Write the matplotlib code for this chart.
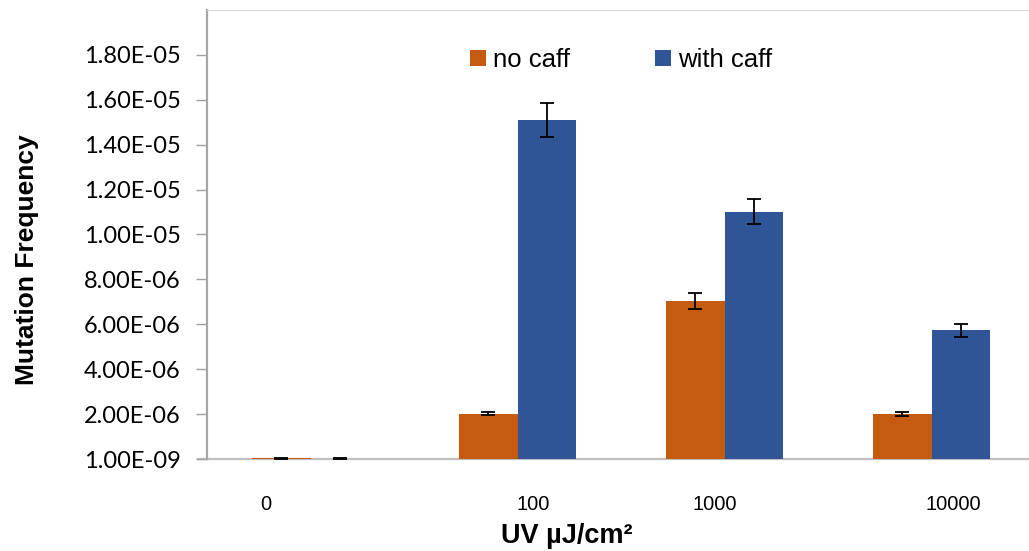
import matplotlib
matplotlib.use("Agg")
import matplotlib.pyplot as plt
import numpy as np

# UV dose groups and mutation frequencies
doses = ["0", "100", "1000", "10000"]
dose_label_pos = [-0.217, 1.077, 1.952, 3.106]
no_caff = [3.0e-8, 2.02e-6, 7.03e-6, 2.0e-6]
no_caff_err = [1.0e-8, 0.08e-6, 0.36e-6, 0.09e-6]
with_caff = [2.0e-8, 1.51e-5, 1.102e-5, 5.73e-6]
with_caff_err = [1.0e-8, 0.75e-6, 0.56e-6, 0.29e-6]

ytick_vals = 1e-9 + 2e-6 * np.arange(10)
ytick_labels = ["1.00E-09", "2.00E-06", "4.00E-06", "6.00E-06", "8.00E-06",
                "1.00E-05", "1.20E-05", "1.40E-05", "1.60E-05", "1.80E-05"]

orange = "#c55a11"
blue = "#2f5597"

fig = plt.figure(figsize=(10.29, 5.51), dpi=100)
ax = fig.add_axes([207/1029, (551-459)/551, (1035-207)/1029, (459-10)/551])

x = np.arange(len(doses))
w = 0.285
ax.bar(x - w/2, no_caff, w, color=orange, label="no caff", zorder=2)
ax.bar(x + w/2, with_caff, w, color=blue, label="with caff", zorder=2)
ax.errorbar(x - w/2, no_caff, yerr=no_caff_err, fmt="none", ecolor="black",
            elinewidth=1.3, capsize=5, capthick=1.3, zorder=3)
ax.errorbar(x + w/2, with_caff, yerr=with_caff_err, fmt="none", ecolor="black",
            elinewidth=1.3, capsize=5, capthick=1.3, zorder=3)

ax.set_xlim(-0.5, 3.5)
ax.set_ylim(1e-9, 2.0e-5)
ax.set_yticks(ytick_vals)
ax.set_yticklabels(ytick_labels, fontfamily="Lato", fontsize=17)
ax.tick_params(axis="y", length=8, width=1, color="#a0a0a0", pad=11)

ax.set_xticks(dose_label_pos)
ax.set_xticklabels(doses, fontfamily="Liberation Sans", fontsize=14.5)
ax.tick_params(axis="x", length=0, pad=26)

ax.spines["right"].set_visible(False)
ax.spines["top"].set_color("#d9d9d9")
ax.spines["left"].set_color("#a6a6a6")
ax.spines["left"].set_linewidth(1.6)
ax.spines["bottom"].set_color("#bfbfbf")
ax.spines["bottom"].set_linewidth(1.6)
ax.spines["bottom"].set_bounds(-0.545, 3.5)
ax.spines["bottom"].set_zorder(1)

fig.text(27/1029, 1 - 260/551, "Mutation Frequency", rotation=90,
         ha="center", va="center", fontfamily="Liberation Sans",
         fontweight="bold", fontsize=19)
fig.text(567/1029, 1 - 536/551, "UV \u00b5J/cm\u00b2", ha="center", va="center",
         fontfamily="Liberation Sans", fontweight="bold", fontsize=19.5)

leg = ax.legend(loc="upper left", bbox_to_anchor=(0.287, 0.972), ncol=2, frameon=False,
                prop={"family": "Liberation Sans", "size": 18.5},
                handlelength=0.6, handleheight=0.6, handletextpad=0.3,
                columnspacing=3.3, borderaxespad=0.6)

fig.savefig("out.png", dpi=100)
